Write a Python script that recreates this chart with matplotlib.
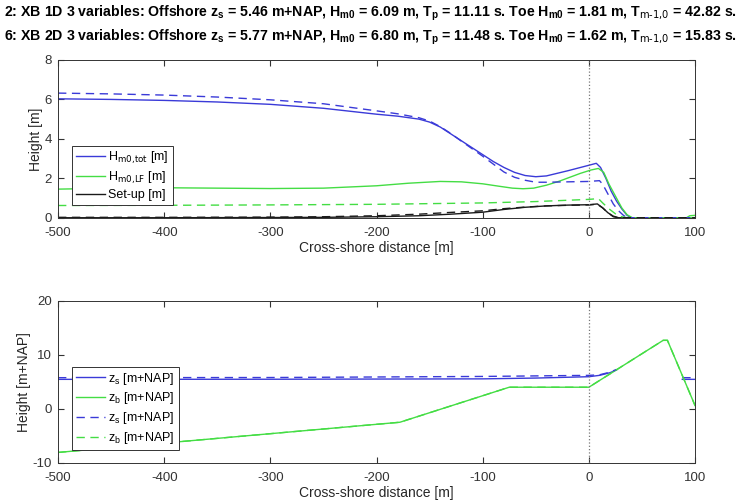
import matplotlib
matplotlib.use('Agg')
from matplotlib import pyplot as plt
import numpy as np

plt.rcParams['font.family'] = ['Liberation Sans', 'DejaVu Sans']
plt.rcParams['mathtext.default'] = 'regular'
plt.rcParams['axes.unicode_minus'] = False

BLUE = '#3a3ad8'
GREEN = '#44dd44'
BLACK = '#1a1a1a'
DASH = (0, (6, 4))

# top panel: wave heights and set-up
x_hs = [-500, -450, -400, -350, -300, -250, -200, -180, -160, -150, -140, -130, -120, -110, -100,
        -90, -80, -70, -60, -50, -40, -30, -20, -10, 0, 7, 11, 16, 21, 26, 31, 36, 40, 100]
hs_1d = [6.03, 6.0, 5.95, 5.87, 5.75, 5.55, 5.25, 5.15, 5.0, 4.85, 4.6, 4.25, 3.9, 3.55, 3.2,
         2.85, 2.55, 2.3, 2.14, 2.08, 2.12, 2.25, 2.38, 2.52, 2.66, 2.76, 2.55, 2.0, 1.35, 0.85, 0.45, 0.12, 0.0, 0.0]

x_hs2 = [-500, -450, -400, -350, -300, -250, -200, -180, -160, -150, -140, -130, -120, -110, -100,
         -90, -80, -70, -60, -50, -40, -20, 0, 10, 13, 18, 23, 28, 33, 38, 100]
hs_2d = [6.32, 6.28, 6.22, 6.12, 5.98, 5.78, 5.42, 5.27, 5.07, 4.9, 4.62, 4.27, 3.88, 3.5, 3.12,
         2.72, 2.32, 2.05, 1.9, 1.8, 1.8, 1.82, 1.84, 1.88, 1.7, 1.2, 0.7, 0.35, 0.1, 0.0, 0.0]

x_lf = [-500, -450, -400, -350, -300, -250, -200, -170, -140, -120, -100, -85, -72, -62, -52, -40,
        -28, -18, -8, 2, 9, 14, 19, 25, 31, 36, 41, 92, 95, 100]
lf_1d = [1.45, 1.5, 1.52, 1.5, 1.48, 1.5, 1.62, 1.75, 1.84, 1.82, 1.72, 1.6, 1.5, 1.47, 1.5, 1.65,
         1.85, 2.05, 2.25, 2.42, 2.5, 2.3, 1.7, 1.1, 0.5, 0.15, 0.0, 0.0, 0.1, 0.12]

x_lf2 = [-500, -400, -300, -200, -100, -50, 0, 9, 13, 19, 25, 31, 36, 100]
lf_2d = [0.62, 0.63, 0.65, 0.68, 0.75, 0.82, 0.93, 0.97, 0.75, 0.45, 0.2, 0.05, 0.0, 0.0]

x_su = [-500, -400, -300, -250, -200, -160, -130, -100, -80, -60, -40, -20, 0, 8, 13, 18, 23, 28, 100]
su_1d = [0.0, 0.0, 0.01, 0.02, 0.05, 0.1, 0.18, 0.28, 0.42, 0.53, 0.6, 0.64, 0.66, 0.7, 0.5, 0.25, 0.08, 0.0, 0.0]
su_2d = [0.02, 0.02, 0.03, 0.05, 0.1, 0.18, 0.27, 0.35, 0.46, 0.54, 0.6, 0.63, 0.65, 0.68, 0.5, 0.25, 0.05, 0.0, 0.0]

# bottom panel: water level and bed
x_zs = [-500, -300, -100, -50, 0, 10, 20, 26, np.nan, 88, 100]
zs_1d = [5.46, 5.48, 5.55, 5.7, 5.95, 6.2, 6.7, 7.2, np.nan, 5.46, 5.46]
zs_2d = [5.77, 5.8, 6.0, 6.1, 6.2, 6.3, 6.8, 7.3, np.nan, 5.77, 5.77]

x_zb = [-500, -178, -75, 0, 70, 74, 100]
zb_1d = [-8.1, -2.5, 4.0, 4.0, 12.7, 12.7, 0.6]
zb_2d = [-8.1, -2.5, 4.0, 4.0, 12.7, 12.7, 0.6]

title1 = ('2: XB 1D 3 variables: Offshore z$_s$ = 5.46 m+NAP, H$_{m0}$ = 6.09 m, '
          'T$_p$ = 11.11 s. Toe H$_{m0}$ = 1.81 m, T$_{\\text{m-1,0}}$ = 42.82 s.')
title2 = ('6: XB 2D 3 variables: Offshore z$_s$ = 5.77 m+NAP, H$_{m0}$ = 6.80 m, '
          'T$_p$ = 11.48 s. Toe H$_{m0}$ = 1.62 m, T$_{\\text{m-1,0}}$ = 15.83 s.')

fig = plt.figure(figsize=(7.42, 5.04), dpi=100)
fig.text(0.006, 0.974, title1, fontsize=10.2, fontweight='bold', va='center', ha='left')
fig.text(0.006, 0.926, title2, fontsize=10.2, fontweight='bold', va='center', ha='left')

ax1 = fig.add_axes([0.0782, 0.568, 0.8585, 0.313])
ax2 = fig.add_axes([0.0782, 0.082, 0.8585, 0.3208])


def style(ax):
    ax.tick_params(direction='in', top=True, right=True, labelsize=9.5, colors='#333333', length=4)
    ax.tick_params(axis='x', pad=7)
    ax.tick_params(axis='y', pad=4.5)
    for s in ax.spines.values():
        s.set_color('#333333')
        s.set_linewidth(0.7)
    ax.set_xlim(-500, 100)
    ax.set_xticks(np.arange(-500, 101, 100))
    ax.axvline(0, color='#777777', ls=':', lw=0.9)
    ax.set_xlabel('Cross-shore distance [m]', fontsize=10, labelpad=1, color='#262626')


def legend(ax):
    leg = ax.legend(loc='lower left', bbox_to_anchor=(0.022, 0.08), fontsize=9, handlelength=2.3,
                    borderaxespad=0, fancybox=False, edgecolor='#333333', labelspacing=0.3,
                    handletextpad=0.3, borderpad=0.3, framealpha=1)
    leg.get_frame().set_linewidth(0.7)


ax1.plot(x_hs, hs_1d, color=BLUE, lw=1.0, label='H$_{\\text{m0,tot}}$ [m]')
ax1.plot(x_lf, lf_1d, color=GREEN, lw=1.0, label='H$_{\\text{m0,LF}}$ [m]')
ax1.plot(x_su, su_1d, color=BLACK, lw=1.0, label='Set-up [m]')
ax1.plot(x_hs2, hs_2d, color=BLUE, lw=1.0, ls=DASH)
ax1.plot(x_lf2, lf_2d, color=GREEN, lw=1.0, ls=DASH)
ax1.plot(x_su, su_2d, color=BLACK, lw=1.0, ls=DASH)
ax1.set_ylim(0, 8)
ax1.set_yticks([0, 2, 4, 6, 8])
ax1.set_ylabel('Height [m]', fontsize=10, color='#262626', labelpad=1)
style(ax1)
legend(ax1)

ax2.plot(x_zs, zs_1d, color=BLUE, lw=1.0, label='z$_s$ [m+NAP]')
ax2.plot(x_zb, zb_1d, color=GREEN, lw=1.0, label='z$_b$ [m+NAP]')
ax2.plot(x_zs, zs_2d, color=BLUE, lw=1.0, ls=DASH, label='z$_s$ [m+NAP]')
ax2.plot(x_zb, zb_2d, color=GREEN, lw=1.0, ls=DASH, label='z$_b$ [m+NAP]')
ax2.set_ylim(-10, 20)
ax2.set_yticks([-10, 0, 10, 20])
ax2.set_ylabel('Height [m+NAP]', fontsize=10, color='#262626', labelpad=1)
style(ax2)
legend(ax2)

plt.savefig('out.png', dpi=100)
